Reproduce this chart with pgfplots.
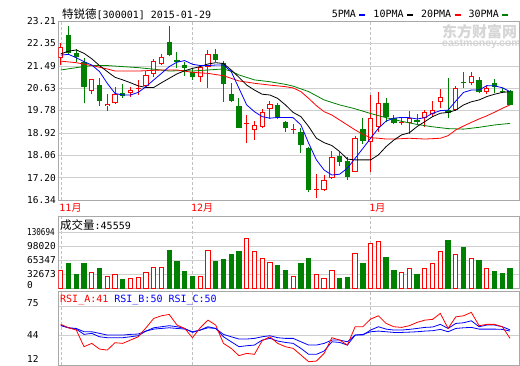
\documentclass[border=0pt]{standalone}
\usepackage{pgfplots}
\pgfplotsset{compat=1.18}
\usepackage{pgfplotstable}
\usepackage{graphicx}
\usepackage{fontspec}
\setmainfont{DejaVu Sans Mono}
\newfontfamily\cjk{Noto Sans CJK SC}
\newfontfamily\wmfont{Liberation Sans}
\definecolor{cgreen}{HTML}{008000}
\definecolor{cred}{HTML}{FF0000}
\definecolor{cblue}{HTML}{0000FF}
\definecolor{gridc}{HTML}{CFCFCF}
\definecolor{framec}{HTML}{A8A8A8}
\definecolor{dashc}{HTML}{C0C0C0}
\definecolor{wmc}{HTML}{D6D6D6}

% red (rising) candles: index, open, high, low, close, volume
\pgfplotstableread{
i O H L C V
0 21.78 22.35 21.52 22.20 42000
4 20.52 21.00 20.40 20.98 38100
6 19.94 20.41 19.77 20.04 28000
7 20.05 20.69 20.03 20.41 32700
9 20.43 20.69 20.29 20.55 24100
10 20.60 20.93 20.37 20.64 25700
11 20.73 21.29 20.69 21.12 38100
12 21.18 21.74 21.07 21.67 49000
13 21.55 21.95 21.53 21.82 49000
18 21.05 21.52 20.88 21.43 28000
19 21.46 22.10 20.65 21.93 88700
24 19.25 19.60 18.52 19.27 116700
25 19.03 19.37 18.64 19.22 86400
26 19.16 19.83 19.12 19.73 70000
27 19.82 20.14 19.45 20.01 61500
30 19.03 19.26 18.87 19.05 28000
33 16.73 17.33 16.43 16.76 32700
34 16.72 17.30 16.70 17.11 23300
35 17.17 18.22 17.15 17.98 42000
38 17.43 18.81 17.40 18.71 81700
40 18.55 20.37 17.43 19.47 105000
41 19.16 20.47 18.96 20.05 109700
44 19.30 19.47 19.22 19.32 38100
45 19.28 19.76 18.86 19.48 46700
47 19.48 19.79 19.16 19.70 46700
48 19.64 20.14 19.54 19.79 58300
49 20.09 20.60 19.86 20.31 86400
51 19.79 20.73 19.77 20.65 79400
53 20.82 21.24 20.75 21.10 70000
55 20.47 20.73 20.40 20.63 46700
}\redtab

% green (falling) candles
\pgfplotstableread{
i O H L C V
1 22.69 23.03 21.90 21.97 59100
2 22.00 22.14 21.65 21.81 33500
3 21.65 21.78 20.05 20.69 59100
5 20.75 21.01 19.96 20.15 47500
8 20.43 20.80 20.27 20.35 21800
14 22.39 23.03 21.85 21.91 89500
15 21.71 22.03 21.40 21.62 63800
16 21.52 21.65 21.10 21.42 40500
17 21.24 21.39 20.95 21.07 28800
20 21.93 22.14 21.65 21.71 63800
21 21.59 21.67 20.11 20.78 68500
22 20.40 20.84 20.09 20.14 80100
23 19.95 20.24 19.10 19.12 87100
28 19.99 20.05 19.45 19.54 54500
29 19.32 19.37 18.96 19.09 42800
31 18.94 19.12 18.13 18.45 59100
32 18.35 18.37 16.66 16.72 70800
36 18.04 18.17 17.66 17.81 24100
37 17.84 18.00 17.11 17.24 26500
39 19.07 19.47 18.48 18.60 59100
42 20.05 20.24 19.32 19.54 73100
43 19.50 19.60 19.24 19.28 42800
46 19.42 19.63 19.25 19.35 33500
50 19.79 21.01 19.48 19.67 110500
52 20.86 21.24 20.63 20.82 96500
54 20.93 21.07 20.43 20.47 66100
56 20.82 20.97 20.43 20.69 40500
57 20.52 20.63 20.43 20.48 35800
58 20.54 20.56 19.97 19.99 45559
}\greentab

\pgfplotstableread{
i v
0 21.90
1 21.93
2 21.80
3 21.65
4 21.52
5 21.27
6 20.82
7 20.43
8 20.37
9 20.37
10 20.47
11 20.69
12 20.95
13 21.20
14 21.46
15 21.63
16 21.69
17 21.55
18 21.50
19 21.50
20 21.52
21 21.52
22 21.27
23 20.63
24 19.99
25 19.73
26 19.54
27 19.48
28 19.51
29 19.51
30 19.50
31 19.22
32 18.52
33 17.88
34 17.49
35 17.30
36 17.33
37 17.56
38 17.94
39 18.32
40 18.71
41 19.09
42 19.37
43 19.48
44 19.51
45 19.50
46 19.45
47 19.50
48 19.67
49 19.77
50 19.79
51 20.14
52 20.47
53 20.56
54 20.56
55 20.73
56 20.72
57 20.65
58 20.50
}\maV

\pgfplotstableread{
i v
0 21.95
1 22.05
2 22.10
3 21.97
4 21.76
5 21.50
6 21.27
7 21.05
8 20.95
9 20.84
10 20.72
11 20.66
12 20.66
13 20.84
14 21.01
15 21.18
16 21.30
17 21.39
18 21.46
19 21.56
20 21.61
21 21.58
22 21.33
23 21.05
24 20.75
25 20.56
26 20.40
27 20.37
28 20.24
29 19.99
30 19.70
31 19.54
32 19.16
33 18.71
34 18.54
35 18.43
36 18.20
37 17.91
38 17.88
39 17.88
40 17.88
41 18.07
42 18.39
43 18.64
44 18.84
45 18.92
46 19.16
47 19.35
48 19.54
49 19.67
50 19.70
51 19.79
52 19.99
53 20.11
54 20.18
55 20.31
56 20.40
57 20.47
58 20.50
}\maX

\pgfplotstableread{
i v
0 21.67
2 21.61
4 21.50
6 21.37
7 21.29
10 21.29
13 21.33
15 21.33
17 21.24
19 21.20
21 21.11
23 20.91
25 20.82
27 20.75
29 20.69
30 20.64
31 20.50
32 20.24
33 19.96
34 19.73
35 19.60
36 19.41
37 19.22
38 19.03
39 18.86
40 18.73
41 18.71
42 18.68
43 18.68
45 18.71
47 18.68
49 18.71
50 18.81
51 19.03
52 19.18
53 19.32
54 19.45
55 19.57
56 19.71
57 19.86
58 19.99
}\maXX

\pgfplotstableread{
i v
0 21.33
2 21.42
4 21.50
6 21.50
8 21.46
10 21.42
12 21.36
14 21.29
16 21.31
17 21.29
19 21.33
21 21.37
22 21.28
23 21.14
25 20.95
27 20.88
29 20.78
30 20.71
32 20.50
34 20.18
36 19.99
38 19.84
40 19.66
42 19.50
44 19.36
46 19.24
48 19.15
50 19.08
52 19.06
54 19.13
56 19.22
58 19.28
}\maXXX

\pgfplotstableread{
i a b c
0 55.3 54.6 53.9
1 51.7 51.7 51.7
2 49.3 50.3 51.0
3 31.7 44.7 47.5
4 35.2 45.8 47.5
5 29.2 42.2 45.8
6 28.1 41.2 44.0
7 35.9 41.2 44.0
8 35.2 41.2 44.0
9 38.7 42.2 44.7
10 42.2 43.3 45.1
11 51.7 48.2 48.2
12 61.6 51.7 50.3
13 64.4 52.8 51.0
14 65.8 53.9 51.7
15 54.6 52.8 51.0
16 51.0 51.0 50.3
17 41.2 46.8 47.5
18 51.7 49.3 49.3
19 59.8 52.8 51.7
20 54.6 51.0 51.0
21 35.2 42.2 44.7
22 29.9 36.9 42.2
23 22.2 31.7 39.8
24 24.6 32.7 39.8
25 23.6 33.4 40.5
26 38.0 38.7 42.2
27 42.2 40.5 43.3
28 35.2 37.7 41.2
29 31.7 36.2 40.5
30 29.9 35.2 40.5
31 22.9 29.9 36.9
32 15.8 23.6 33.4
33 16.5 23.6 33.4
34 24.6 27.1 35.2
35 41.2 36.9 38.7
36 38.7 36.2 38.7
37 33.4 33.4 36.9
38 52.8 44.0 44.0
39 52.8 44.0 44.7
40 60.9 49.3 47.5
41 64.4 52.8 48.2
42 56.3 50.3 47.5
43 52.8 49.3 46.8
44 52.1 49.3 46.8
45 53.9 50.0 47.1
46 57.4 51.0 47.5
47 59.8 52.1 48.2
48 60.6 52.5 48.6
49 66.9 55.3 50.0
50 51.0 51.0 47.5
51 63.3 56.3 51.0
52 64.4 57.0 51.7
53 68.0 59.1 52.1
54 53.9 52.8 50.3
55 55.3 54.6 50.3
56 55.3 54.6 50.3
57 52.8 52.8 50.0
58 40.5 49.5 48.2
}\rsitab

\newcommand{\yue}{{\cjk 月}}
\newcommand{\sw}[1]{\hspace{3.5pt}\textcolor{#1}{\rule[1.5pt]{6pt}{2.5pt}}}

\pgfplotsset{
  panel/.style={
    scale only axis, width=461.2pt, xmin=-0.32, xmax=59.22,
    anchor=north west,
    axis line style={framec},
    major tick length=0pt, tick style={draw=none},
    xtick={0,17,40},
    xmajorgrids, x grid style={dashc, dash pattern=on 3pt off 2pt},
    ymajorgrids, y grid style={gridc},
    scaled y ticks=false,
    yticklabel style={anchor=west, inner sep=0pt, xshift=-31.3pt,
      font=\fontsize{9.5}{10}\selectfont, text=black},
    clip=true,
  },
}

\begin{document}
\begin{tikzpicture}
\path[use as bounding box, fill=white] (0pt,0pt) rectangle (520pt,-365pt);

% watermark
\node[anchor=west, text=wmc, inner sep=0pt] at (442pt,-32pt)
  {\cjk\bfseries\fontsize{15}{15}\selectfont 东方财富网};
\node[anchor=west, text=wmc, inner sep=0pt] at (442pt,-44pt)
  {\wmfont\bfseries\fontsize{10.5}{10.5}\selectfont eastmoney.com};

% ---------------- main price panel ----------------
\begin{axis}[panel, at={(58.3pt,-21pt)}, height=179pt,
  ymin=16.34, ymax=23.21,
  ytick={16.34,17.20,18.06,18.92,19.78,20.63,21.49,22.35,23.21},
  yticklabels={16.34,17.20,18.06,18.92,19.78,20.63,21.49,22.35,23.21},
  xticklabels={{11\yue},{12\yue},{1\yue}},
  xticklabel style={anchor=north west, inner sep=0pt, xshift=-1.5pt, yshift=-3pt,
    text=cred, font=\fontsize{10}{10}\selectfont},
]
% wicks
\addplot[draw=none, mark=none, forget plot,
  error bars/.cd, y dir=plus, y explicit, error mark=none,
  error bar style={draw=cred, line width=1pt}]
  table[x=i, y=L, y error expr=\thisrow{H}-\thisrow{L}] {\redtab};
\addplot[draw=none, mark=none, forget plot,
  error bars/.cd, y dir=plus, y explicit, error mark=none,
  error bar style={draw=cgreen, line width=1pt}]
  table[x=i, y=L, y error expr=\thisrow{H}-\thisrow{L}] {\greentab};
% red hollow bodies
\addplot[draw=none, mark=none, forget plot,
  error bars/.cd, y dir=plus, y explicit, error mark=none,
  error bar style={draw=cred, line width=5.3pt}]
  table[x=i, y=O, y error expr={max(\thisrow{C}-\thisrow{O},0.04)}] {\redtab};
\addplot[draw=none, mark=none, forget plot,
  error bars/.cd, y dir=plus, y explicit, error mark=none,
  error bar style={draw=white, line width=3.3pt}]
  table[x=i, y expr=\thisrow{O}+0.0384,
        y error expr={max(\thisrow{C}-\thisrow{O}-0.0768,0)}] {\redtab};
% green filled bodies
\addplot[draw=none, mark=none, forget plot,
  error bars/.cd, y dir=plus, y explicit, error mark=none,
  error bar style={draw=cgreen, line width=5.3pt}]
  table[x=i, y=C, y error expr={max(\thisrow{O}-\thisrow{C},0.04)}] {\greentab};
% moving averages
\addplot[cgreen, line width=0.8pt, mark=none] table[x=i,y=v] {\maXXX};
\addplot[cred, line width=0.8pt, mark=none] table[x=i,y=v] {\maXX};
\addplot[black, line width=0.8pt, mark=none] table[x=i,y=v] {\maX};
\addplot[cblue, line width=0.8pt, mark=none] table[x=i,y=v] {\maV};
\end{axis}

% title and legend
\node[anchor=west, inner sep=0pt] at (62pt,-14pt)
  {{\cjk\fontsize{11.5}{12}\selectfont 特锐德}\fontsize{10}{12}\selectfont[300001] 2015-01-29};
\node[anchor=west, inner sep=0pt, font=\fontsize{10}{12}\selectfont] at (331.7pt,-14pt)
  {5PMA\sw{cblue}\hspace{8pt}10PMA\sw{black}\hspace{8pt}20PMA\sw{cred}\hspace{8pt}30PMA\sw{cgreen}};

% ---------------- volume panel ----------------
\begin{axis}[panel, at={(58.3pt,-215.7pt)}, height=72.8pt,
  ymin=0, ymax=169300,
  ytick={0,32673,65347,98020,130694},
  yticklabels={\raisebox{0.5pt}[0pt][0pt]{0},32673,65347,98020,\scalebox{0.8}[1]{130694}},
  xticklabels={},
]
\addplot[ybar, bar width=4.3pt, bar shift=0pt, draw=cred, line width=1pt, fill=white, forget plot]
  table[x=i, y=V] {\redtab};
\addplot[ybar, bar width=4.3pt, bar shift=0pt, draw=cgreen, line width=1pt, fill=cgreen, forget plot]
  table[x=i, y=V] {\greentab};
\end{axis}
\node[anchor=west, inner sep=0pt] at (60pt,-225pt)
  {{\cjk\fontsize{11.5}{12}\selectfont 成交量}\fontsize{10}{12}\selectfont:45559};

% ---------------- RSI panel ----------------
\begin{axis}[panel, at={(58.3pt,-291pt)}, height=74.3pt,
  ymin=12, ymax=90.6,
  ytick={12,44,75},
  yticklabels={\raisebox{2.5pt}[0pt][0pt]{12},44,\raisebox{-1pt}[0pt][0pt]{75}},
  xticklabels={},
]
\addplot[cblue, line width=0.8pt, mark=none] table[x=i,y=c] {\rsitab};
\addplot[cblue, line width=0.8pt, mark=none] table[x=i,y=b] {\rsitab};
\addplot[cred, line width=0.8pt, mark=none] table[x=i,y=a] {\rsitab};
\end{axis}
\node[anchor=west, inner sep=0pt, font=\fontsize{10}{12}\selectfont] at (60pt,-300pt)
  {\textcolor{cred}{RSI\_A:41} \textcolor{cblue}{RSI\_B:50 RSI\_C:50}};
\end{tikzpicture}
\end{document}
